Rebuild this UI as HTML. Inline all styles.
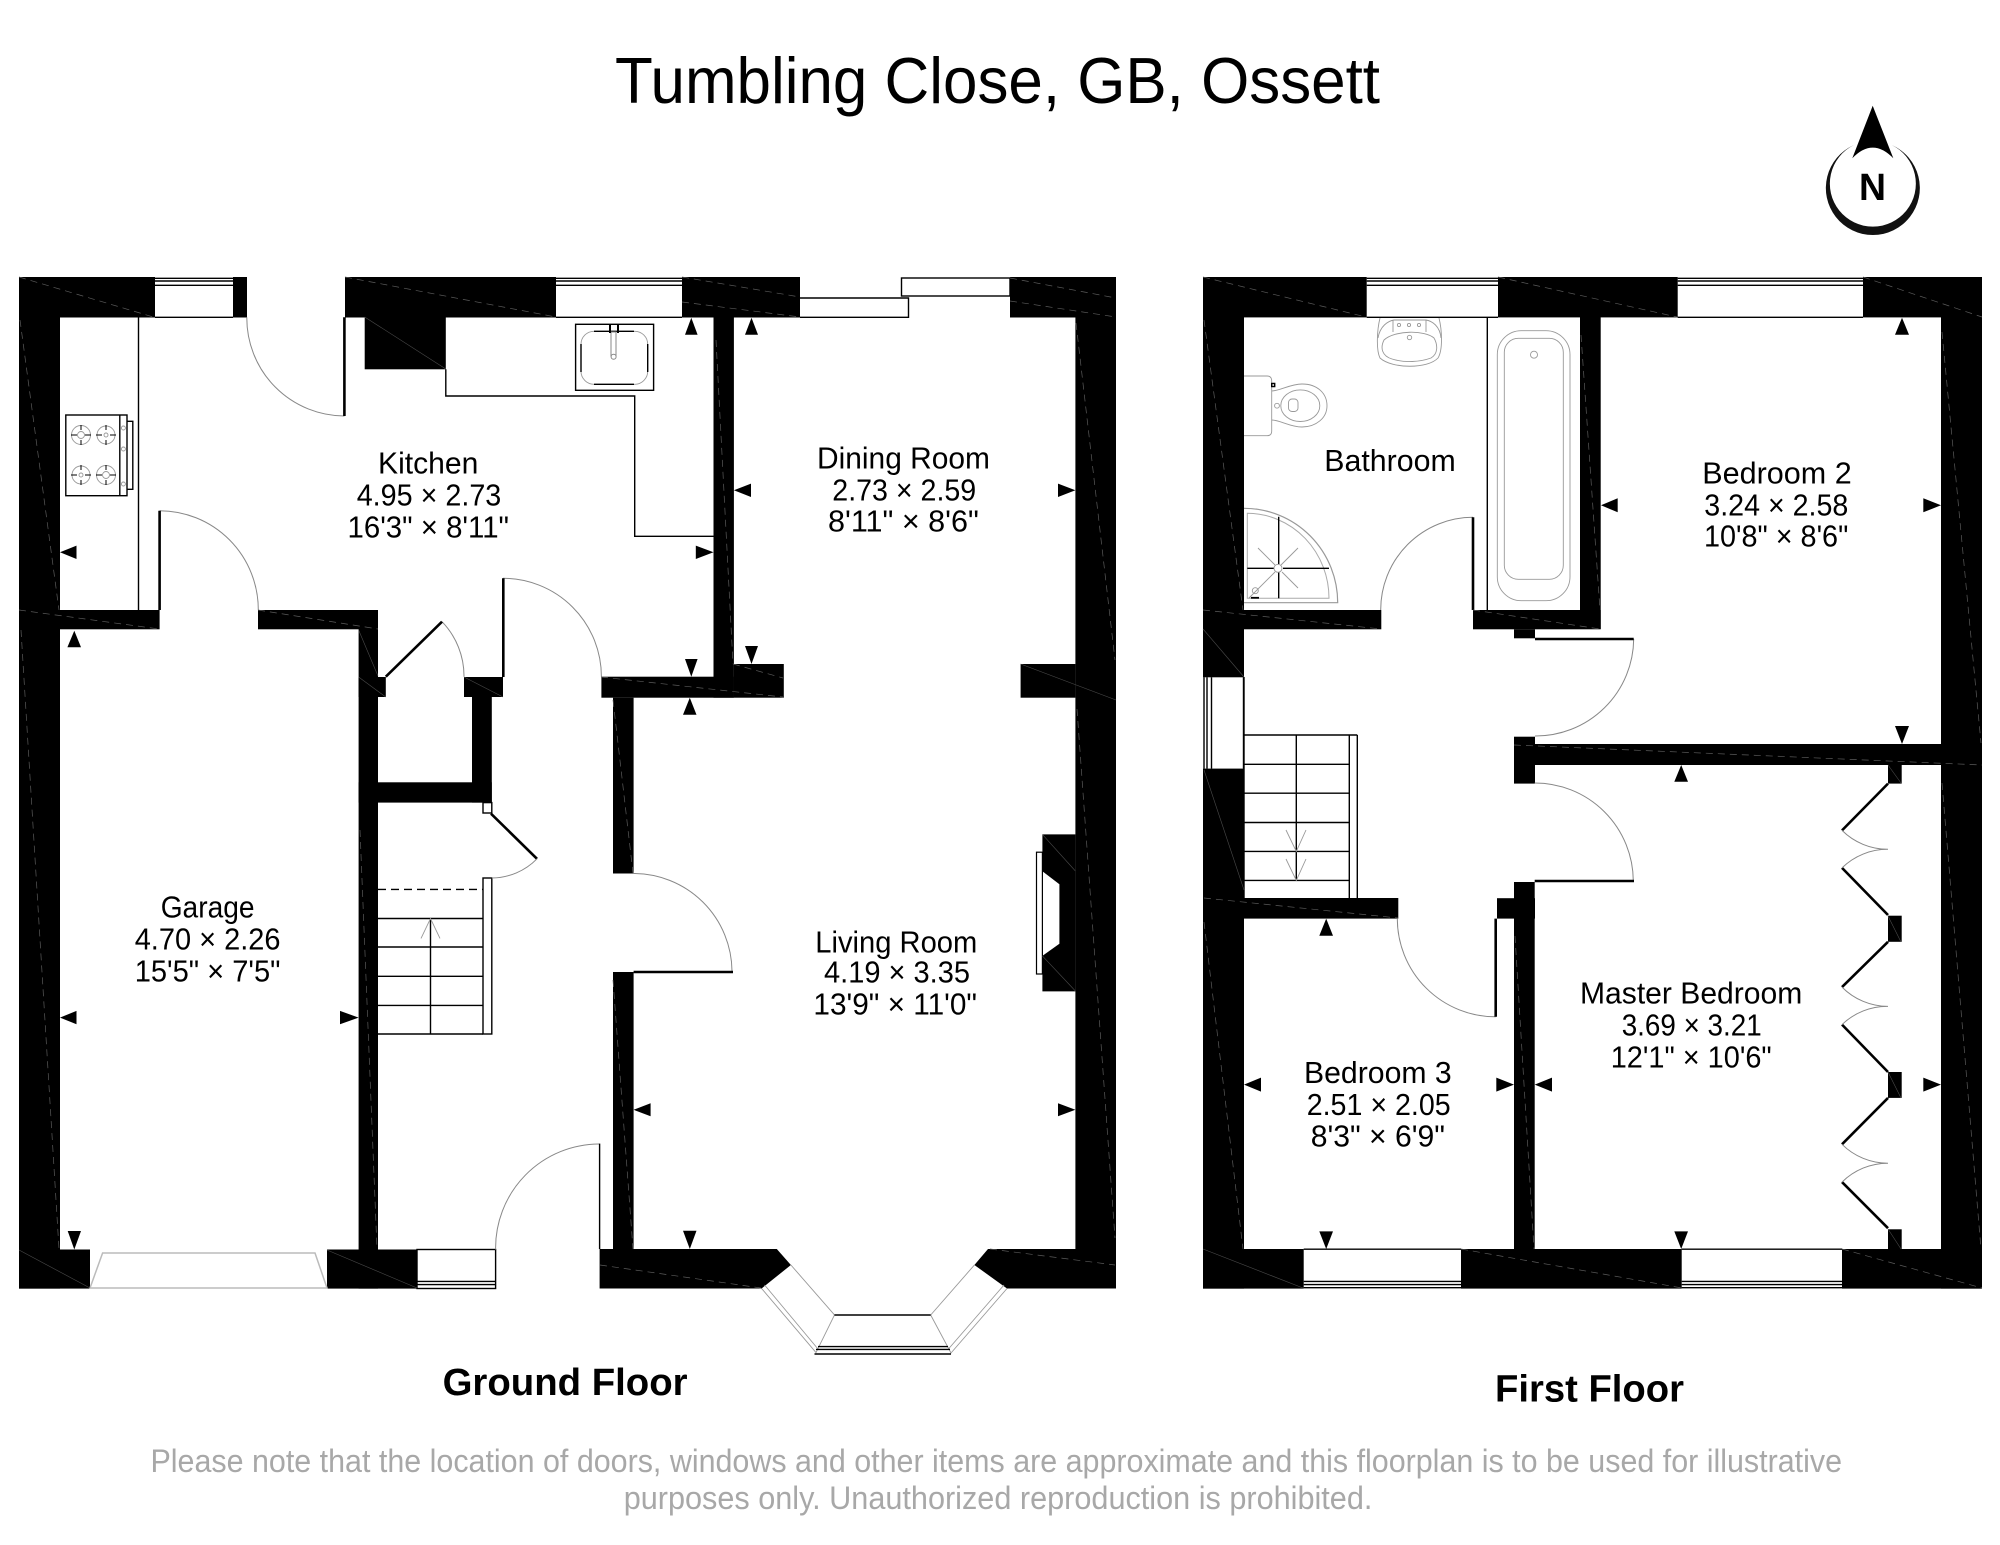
<!DOCTYPE html>
<html lang="en">
<head>
<meta charset="utf-8">
<title>Tumbling Close, GB, Ossett</title>
<style>
html,body{margin:0;padding:0;background:#fff}
svg{display:block}
text{font-family:"Liberation Sans",sans-serif;fill:#000;text-anchor:start}
.r{font-size:31px}
.d{stroke:#5a5a5a;stroke-width:.7;stroke-dasharray:7 5;fill:none}
.t{stroke:#4a4a4a;stroke-width:.6;fill:none}
.a{stroke:#888;stroke-width:1;fill:none}
.l{stroke:#000;stroke-width:2.6;fill:none}
.n{stroke:#000;stroke-width:1.4;fill:none}
.g{stroke:#999;stroke-width:.9;fill:none}
.w{fill:#fff;stroke:#000;stroke-width:1.4}
</style>
</head>
<body>
<svg xmlns="http://www.w3.org/2000/svg" width="2000" height="1545" viewBox="0 0 2000 1545">
<rect width="2000" height="1545" fill="#fff"/>

<text x="615" y="103" font-size="65" textLength="765" lengthAdjust="spacingAndGlyphs">Tumbling Close, GB, Ossett</text>

<!-- compass -->
<path d="M1872.7 105.7L1893.3 158.3Q1872.7 137 1852.3 158.3Z" fill="#000"/>
<path d="M1854 145A47 47 0 1 0 1891.7 145A43 43 0 1 1 1854 145Z" fill="#111"/>
<text x="1859" y="200" font-size="38" font-weight="bold" textLength="27" lengthAdjust="spacingAndGlyphs">N</text>

<!-- GROUND FLOOR walls -->
<g fill="#000">
<rect x="19" y="277" width="41" height="1011.6"/>
<rect x="19" y="277" width="136" height="40.5"/>
<rect x="233" y="277" width="14" height="40.5"/>
<rect x="345" y="277" width="211" height="40.5"/>
<rect x="682" y="277" width="118" height="40.5"/>
<rect x="1010" y="277" width="106" height="40.5"/>
<rect x="1075.4" y="277" width="40.6" height="1011.5"/>
<rect x="19" y="610" width="140.6" height="19.3"/>
<rect x="258" y="610" width="120" height="19.3"/>
<rect x="358.6" y="610" width="19.4" height="678.6"/>
<rect x="358.6" y="677" width="27.2" height="20"/>
<rect x="464" y="677" width="39" height="20"/>
<rect x="472" y="697" width="19.8" height="105.6"/>
<rect x="358.6" y="782.3" width="133.2" height="20.3"/>
<rect x="19" y="1249.5" width="71" height="39.1"/>
<rect x="327" y="1249.5" width="90" height="39.1"/>
<path d="M599.6 1249H776.8L790.9 1265L761.6 1288.5H599.6Z"/>
<path d="M988 1249H1116V1288.5H1007L974.4 1265Z"/>
<rect x="713.5" y="317" width="20.4" height="380.7"/>
<rect x="601.4" y="676.7" width="132.5" height="21"/>
<rect x="733.9" y="664" width="49.9" height="33.7"/>
<rect x="613" y="697.7" width="20.6" height="175.8"/>
<rect x="613" y="972" width="20.6" height="277"/>
<rect x="1020.6" y="664" width="54.8" height="33.7"/>
<path d="M1042.4 834.4H1075.4V991.4H1042.4V955.9L1059.4 943.7V884.3L1042.4 871.3Z"/>
<rect x="364.7" y="317" width="81.1" height="52.3"/>
</g>

<!-- ground windows -->
<g class="n">
<path d="M155 278.3H233M155 281H233M155 285.3H233M155 317.3H233"/>
<path d="M556 278.3H682M556 281H682M556 285.3H682M556 317.3H682"/>
<rect x="901.5" y="278" width="108.5" height="18"/>
<path d="M800 298H908.5V317.3H800"/>
<rect x="417" y="1249.5" width="78.6" height="39"/>
<path d="M417 1281.4H495.6M417 1284.6H495.6"/>
</g>
<path d="M90 1288L102.6 1253H315L327 1288Z" fill="none" stroke="#bbb" stroke-width="1.5"/>

<!-- bay -->
<g class="g">
<path d="M790.9 1265L834.5 1315L816 1352.6L761.6 1288.5"/>
<path d="M974.4 1265L930.7 1315L951 1353L1007 1288.5"/>
<path d="M764.6 1285L818 1349M1004 1285L948 1349.5"/>
</g>
<path class="n" d="M834.5 1315H930.7M814.5 1354H951M818 1346.6H948M816 1349.4H950"/>

<!-- kitchen furniture -->
<path class="n" d="M138.5 317V610"/>
<path class="n" d="M445.8 369.3V396H634.7V536.3H713.5"/>
<rect x="65.8" y="415" width="61.2" height="80.7" class="n"/>
<path class="n" d="M119.8 415V495.7M127 421.3H132.8V489.3H127"/>
<g class="g">
<circle cx="81" cy="435" r="9.5"/><circle cx="81" cy="435" r="3.5"/>
<circle cx="106" cy="435" r="9"/><circle cx="106" cy="435" r="2"/>
<circle cx="81" cy="475" r="9"/><circle cx="81" cy="475" r="2"/>
<circle cx="106" cy="475" r="9.5"/><circle cx="106" cy="475" r="3.5"/>
<circle cx="123.4" cy="449" r="2"/><circle cx="123.4" cy="428" r="2"/><circle cx="123.4" cy="484" r="2"/>
</g>
<path stroke="#000" stroke-width="1" d="M71 435h6M85 435h6M81 425v5M81 440v5M96 435h6M110 435h6M106 425v5M106 440v5M71 475h6M85 475h6M81 465v5M81 480v5M96 475h6M110 475h6M106 465v5M106 480v5" fill="none"/>
<rect x="575.6" y="324.3" width="78" height="66" class="n"/>
<rect x="581" y="331.3" width="66.7" height="53" rx="13" class="g"/>
<path class="n" d="M594 331.3H634M581 344V372M647.7 344V372M594 384.3H634"/>
<rect x="611" y="332" width="5" height="24" fill="#fff" stroke="#888"/>
<path stroke="#000" stroke-width="2" d="M610 325V333M618 325V333"/>
<circle cx="613.6" cy="356.7" r="2.5" fill="#fff" stroke="#888"/>

<!-- ground stairs -->
<rect x="483" y="802.6" width="8.8" height="10.4" class="n" fill="#fff"/>
<path class="l" d="M491 813.7L537 858.8"/>
<rect x="483" y="878" width="8.8" height="156" class="n"/>
<path stroke="#000" stroke-width="1.4" stroke-dasharray="8 5" d="M378 889.4H483" fill="none"/>
<path class="n" d="M378 918.5H483M378 947H483M378 976.3H483M378 1005.4H483M378 1034H483M430.5 918.5V1034"/>
<path class="g" d="M421 938.4L430.5 918.5L440 938.4"/>
<rect x="1036.5" y="852.2" width="5.9" height="121.8" fill="none" stroke="#000" stroke-width="1.2"/>

<!-- ground doors -->
<path class="a" d="M246.8 317.3A98 98 0 0 0 344.4 416"/>
<path class="a" d="M159.6 510.7A99 99 0 0 1 258.3 610"/>
<path class="a" d="M503 578.3A98.4 98.4 0 0 1 601.4 676.7"/>
<path class="a" d="M442 621.7A78 78 0 0 1 464 676.7"/>
<path class="a" d="M537 858.8A64 64 0 0 1 491.8 878"/>
<path class="a" d="M495.6 1249.5A104 104 0 0 1 599 1144"/>
<path class="a" d="M633.6 873.5A98.5 98.5 0 0 1 732 971"/>
<path class="l" d="M344.4 317.3V416M159.6 510.7V610M503.3 578.3V677M385.8 676.7L442 621.7"/>
<path class="n" d="M599.6 1143.6V1249"/>
<path class="l" d="M633.6 972H733"/>

<!-- FIRST FLOOR walls -->
<g fill="#000">
<rect x="1203" y="277" width="163.7" height="40.4"/>
<rect x="1498" y="277" width="179.7" height="40.4"/>
<rect x="1863" y="277" width="119" height="40.4"/>
<rect x="1203" y="277" width="41" height="400.3"/>
<rect x="1203" y="768.6" width="41" height="520"/>
<rect x="1203" y="610" width="178.3" height="19.3"/>
<rect x="1473" y="610" width="127.7" height="19.3"/>
<rect x="1580" y="317" width="20.7" height="312"/>
<rect x="1514" y="629.3" width="21" height="9"/>
<rect x="1514" y="736.7" width="21" height="46.9"/>
<rect x="1514" y="744" width="468" height="21"/>
<rect x="1941" y="277" width="41" height="1011.6"/>
<rect x="1203" y="898" width="195.3" height="20.6"/>
<rect x="1497" y="898.2" width="38" height="20.4"/>
<rect x="1514" y="882" width="20.7" height="367"/>
<rect x="1203" y="1249" width="100.7" height="39.6"/>
<rect x="1461" y="1249" width="220.7" height="39.6"/>
<rect x="1842" y="1249" width="140" height="39.6"/>
<rect x="1888" y="765" width="13.7" height="18.6"/>
<rect x="1888" y="915.7" width="13.7" height="26.1"/>
<rect x="1888" y="1072" width="13.7" height="25.9"/>
<rect x="1888" y="1229.3" width="13.7" height="19.7"/>
</g>

<!-- first windows -->
<g class="n">
<path d="M1366.7 278.3H1498M1366.7 281H1498M1366.7 285.3H1498M1366.7 317.3H1498"/>
<path d="M1677.7 278.3H1863M1677.7 281H1863M1677.7 285.3H1863M1677.7 317.3H1863"/>
<path d="M1303.7 1249.2H1461M1303.7 1281.4H1461M1303.7 1284.6H1461M1303.7 1287.7H1461"/>
<path d="M1681.7 1249.2H1842M1681.7 1281.4H1842M1681.7 1284.6H1842M1681.7 1287.7H1842"/>
<path d="M1204 677.3V768.6M1207 677.3V768.6M1211.5 677.3V768.6M1243.5 677.3V768.6"/>
</g>

<!-- bathroom -->
<path class="n" d="M1487.3 317V610"/>
<rect x="1497.3" y="330.7" width="72.7" height="270" rx="24" class="g"/>
<rect x="1504.3" y="338.3" width="59" height="241" rx="14" class="g"/>
<circle cx="1534" cy="354.7" r="3.5" class="g"/>
<path class="g" d="M1380 318C1377 330 1376 350 1380 358C1392 369 1428 369 1438 358C1443 350 1442 330 1439 318"/>
<path class="g" d="M1384 340C1380 348 1382 356 1392 359C1405 363 1420 362 1431 358C1438 354 1438 345 1434 338C1425 330 1395 330 1384 340Z"/>
<path class="g" d="M1378 338C1380 326 1388 321 1394 320H1426C1432 321 1440 326 1441 338M1393 320V332M1426 320V332"/>
<circle cx="1399" cy="325" r="1.6" class="g"/><circle cx="1409" cy="325" r="1.6" class="g"/><circle cx="1419" cy="325" r="1.6" class="g"/><circle cx="1409.5" cy="337.5" r="2.2" class="g"/>
<path class="g" d="M1244 376H1267Q1271.7 376 1271.7 381V431Q1271.7 435.7 1267 435.7H1244"/>
<path class="n" d="M1271.7 383.5h3v3h-3z"/>
<path class="g" d="M1271.7 391C1280 391 1290 384 1302 384C1318 384 1327 394 1327 405.7C1327 418 1316 427 1302 427C1290 427 1280 420 1271.7 420"/>
<ellipse cx="1300.3" cy="405.7" rx="19.5" ry="15.8" class="g"/>
<rect x="1288.5" y="399" width="9.5" height="12.5" rx="3.5" class="g"/>
<circle cx="1277" cy="405.7" r="2.4" class="g"/>
<path d="M1244 508.3A93.7 94.4 0 0 1 1337.7 602.7H1244" fill="none" stroke="#999" stroke-width="1.2"/>
<path d="M1247.3 513.3V598.3H1329A82 85 0 0 0 1247.3 513.3Z" fill="none" stroke="#aaa" stroke-width="1"/>
<path class="n" d="M1278.7 516.7V564M1278.7 572.5V598.3M1247.3 568.3H1274M1283 568.3H1329"/>
<path class="g" d="M1258 548L1275 565M1282 572L1298 588M1298 548L1281 565M1275 572L1249 598"/>
<circle cx="1278" cy="568.3" r="4" class="g"/>
<circle cx="1255.3" cy="590.7" r="3" class="g"/>
<path stroke="#000" stroke-width="1.8" d="M1251 597.8H1259"/>

<!-- first stairs -->
<path class="n" d="M1244 735H1357.3M1244 764.3H1349.3M1244 793.2H1349.3M1244 822.5H1349.3M1244 851.4H1349.3M1244 880.4H1349.3M1296.3 735V880.4M1349.3 735V898M1357.3 735V898M1244 677V898"/>
<path class="g" d="M1286 830L1296.3 851.4L1306 830M1286 859L1296.3 880.4L1306 859"/>

<!-- first doors -->
<path class="a" d="M1380.7 610A92.5 92.5 0 0 1 1473 517.3"/>
<path class="a" d="M1633.7 639A98 98 0 0 1 1535 736"/>
<path class="a" d="M1534.7 783A98.5 98.5 0 0 1 1633.3 881"/>
<path class="a" d="M1397.3 918.6A98.3 98.3 0 0 0 1495.7 1016.8"/>
<path class="l" d="M1473 517.3V610M1535 639H1633.7M1534.7 881H1634M1495.7 918.6V1016.8"/>
<path class="l" d="M1888 783.6L1842 830.4M1842 867.9L1888 915M1888 941.8L1842 987.1M1842 1024.6L1888 1072M1888 1097.9L1842 1144.3M1842 1182.1L1888 1228.2"/>
<path class="a" d="M1842 830.4A65 65 0 0 0 1888 849.3A65 65 0 0 0 1842 867.9"/>
<path class="a" d="M1842 987.1A65 65 0 0 0 1888 1006.4A65 65 0 0 0 1842 1024.6"/>
<path class="a" d="M1842 1144.3A65 65 0 0 0 1888 1163.2A65 65 0 0 0 1842 1182.1"/>

<!-- wall hatch -->
<g class="d">
<path d="M19 277L155 317.5M20 320L59 610M21 630L59 1249M19 610L159 629M258 610L378 629M345 277L556 317M682 277L800 297M682 302L800 317M1010 278L1116 298M1010 301L1116 317M1076 323L1115 660M1077 709L1115 1238M716 340L733 664M733 664L783 678M601 677L783 697M613 700L633 873M613 980L633 1249M600 1265L761 1288M990 1249L1115 1265M360 830L377 1249"/>
<path d="M1203 277L1366 317M1498 277L1677 317M1863 277L1982 317M1204 320L1243 610M1203 610L1381 629M1473 610L1600 629M1581 335L1600 610M1942 332L1981 743M1514 745L1982 765M1204 898L1398 918M1204 922L1243 1249M1515 936L1534 1249M1461 1249L1682 1288M1842 1249L1982 1288M1942 783L1981 1249"/>
</g>
<g class="t">
<path d="M19 1250L90 1288M327 1250L417 1288M364.7 317L445.8 369M358.6 630L378 676M358.6 677L385.8 697M464 677L503 697M1020.6 664L1116 700M1042.4 834.4L1075.4 871M1042.4 955.9L1075.4 991"/>
<path d="M1203 629L1244 677M1204 770L1244 890M1203 1249L1303 1288M1888 765L1901 783M1888 916L1901 942M1888 1072L1901 1098M1888 1229L1901 1249"/>
</g>

<!-- dimension arrows -->
<g fill="#000">
<path d="M60 552.3L76.5 545.6V559Z"/>
<path d="M74.3 630.7L81 647.3H67.4Z"/>
<path d="M74.3 1249.5L81 1231H67.7Z"/>
<path d="M60 1017.6L76.5 1010.9V1024.3Z"/>
<path d="M358.6 1017.6L340 1010.9V1024.3Z"/>
<path d="M691.3 317.7L697.6 334.7H685Z"/>
<path d="M751.5 317.7L758 334.7H745Z"/>
<path d="M733.9 490.3L751 483.6V497Z"/>
<path d="M1075.4 490.3L1058 483.6V497Z"/>
<path d="M713.5 552.3L695.8 545.6V559Z"/>
<path d="M751.5 664L758 646H745Z"/>
<path d="M691.3 676.7L697.6 659H685Z"/>
<path d="M689.8 697.7L696.5 714.7H683Z"/>
<path d="M633.6 1109.8L650.6 1103.3V1116.3Z"/>
<path d="M1075.4 1109.8L1058 1103.3V1116.3Z"/>
<path d="M689.8 1249L696.5 1230.8H683Z"/>
<path d="M1902 317.7L1909 334.7H1895Z"/>
<path d="M1601 505.3L1617.7 498.3V512.3Z"/>
<path d="M1941 505.3L1923.3 498.3V512.3Z"/>
<path d="M1902 744L1909 726H1895Z"/>
<path d="M1681.2 765L1688 781.8H1674.3Z"/>
<path d="M1534.7 1084.6L1552 1077.6V1091.6Z"/>
<path d="M1941 1084.6L1923.3 1077.6V1091.6Z"/>
<path d="M1681.2 1249L1688 1231.4H1674.3Z"/>
<path d="M1326.2 918.6L1333 935.7H1319.3Z"/>
<path d="M1244 1084.6L1261 1077.6V1091.6Z"/>
<path d="M1514 1084.6L1496.3 1077.6V1091.6Z"/>
<path d="M1326.2 1249L1333 1231.4H1319.3Z"/>
</g>

<!-- room labels -->
<g>
<text class="r" x="378" y="473.3" textLength="100.4" lengthAdjust="spacingAndGlyphs">Kitchen</text>
<text class="r" x="356.7" y="505.7" textLength="144.6" lengthAdjust="spacingAndGlyphs">4.95 × 2.73</text>
<text class="r" x="347.5" y="537.3" textLength="161.5" lengthAdjust="spacingAndGlyphs">16'3" × 8'11"</text>

<text class="r" x="817" y="468.3" textLength="173" lengthAdjust="spacingAndGlyphs">Dining Room</text>
<text class="r" x="832.3" y="500.7" textLength="143.9" lengthAdjust="spacingAndGlyphs">2.73 × 2.59</text>
<text class="r" x="828" y="531.7" textLength="150.8" lengthAdjust="spacingAndGlyphs">8'11" × 8'6"</text>

<text class="r" x="160.7" y="917.4" textLength="93.8" lengthAdjust="spacingAndGlyphs">Garage</text>
<text class="r" x="134.7" y="949.5" textLength="145.8" lengthAdjust="spacingAndGlyphs">4.70 × 2.26</text>
<text class="r" x="134.7" y="981.3" textLength="145.8" lengthAdjust="spacingAndGlyphs">15'5" × 7'5"</text>

<text class="r" x="815.3" y="952.4" textLength="162" lengthAdjust="spacingAndGlyphs">Living Room</text>
<text class="r" x="824" y="982.7" textLength="146" lengthAdjust="spacingAndGlyphs">4.19 × 3.35</text>
<text class="r" x="813.4" y="1014.4" textLength="163.6" lengthAdjust="spacingAndGlyphs">13'9" × 11'0"</text>

<text class="r" x="1324.3" y="471" textLength="131.4" lengthAdjust="spacingAndGlyphs">Bathroom</text>

<text class="r" x="1702.3" y="483.3" textLength="149.4" lengthAdjust="spacingAndGlyphs">Bedroom 2</text>
<text class="r" x="1704.3" y="515.7" textLength="144" lengthAdjust="spacingAndGlyphs">3.24 × 2.58</text>
<text class="r" x="1704" y="546.7" textLength="144.3" lengthAdjust="spacingAndGlyphs">10'8" × 8'6"</text>

<text class="r" x="1304" y="1082.9" textLength="147.7" lengthAdjust="spacingAndGlyphs">Bedroom 3</text>
<text class="r" x="1306.7" y="1115" textLength="144" lengthAdjust="spacingAndGlyphs">2.51 × 2.05</text>
<text class="r" x="1310.7" y="1146.4" textLength="134.3" lengthAdjust="spacingAndGlyphs">8'3" × 6'9"</text>

<text class="r" x="1580" y="1003.6" textLength="222.3" lengthAdjust="spacingAndGlyphs">Master Bedroom</text>
<text class="r" x="1621.7" y="1035.7" textLength="140" lengthAdjust="spacingAndGlyphs">3.69 × 3.21</text>
<text class="r" x="1610.7" y="1067.5" textLength="161" lengthAdjust="spacingAndGlyphs">12'1" × 10'6"</text>
</g>

<text x="442.6" y="1395" font-size="38" font-weight="bold" textLength="245" lengthAdjust="spacingAndGlyphs">Ground Floor</text>
<text x="1495" y="1401.5" font-size="38" font-weight="bold" textLength="189" lengthAdjust="spacingAndGlyphs">First Floor</text>

<text x="150.5" y="1472" font-size="32" style="fill:#a8a8a8" textLength="1691.5" lengthAdjust="spacingAndGlyphs">Please note that the location of doors, windows and other items are approximate and this floorplan is to be used for illustrative</text>
<text x="623.7" y="1509" font-size="32" style="fill:#a8a8a8" textLength="748.7" lengthAdjust="spacingAndGlyphs">purposes only. Unauthorized reproduction is prohibited.</text>
</svg>
</body>
</html>
